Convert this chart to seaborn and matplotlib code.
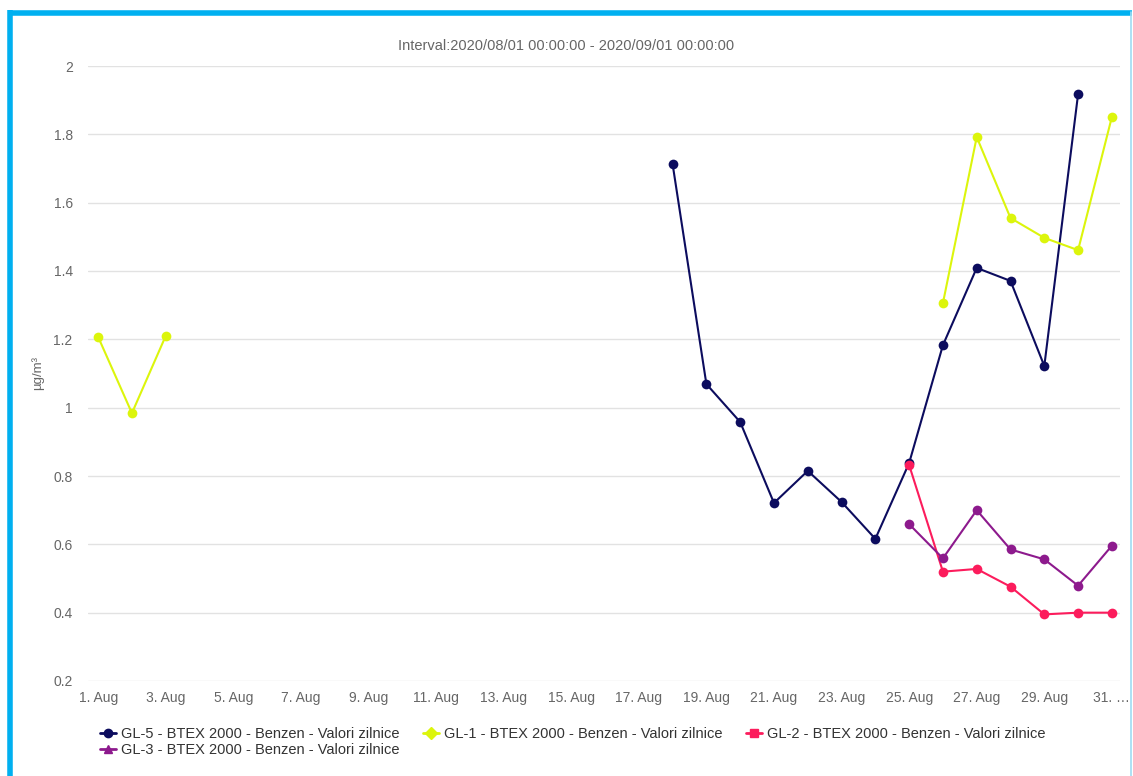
import matplotlib
matplotlib.use("Agg")
import matplotlib.pyplot as plt
from matplotlib.lines import Line2D
import numpy as np
import pandas as pd
import seaborn as sns

# days of August 2020 (31 = last shown point)
days = list(range(1, 32))
nan = np.nan

gl5 = [nan] * 17 + [1.713, 1.069, 0.958, 0.721, 0.815, 0.724, 0.616, 0.838,
                    1.183, 1.409, 1.371, 1.122, 1.918, nan]
gl1 = [1.207, 0.984, 1.210] + [nan] * 22 + [1.306, 1.792, 1.555, 1.497, 1.461, 1.851]
gl2 = [nan] * 24 + [0.832, 0.520, 0.528, 0.476, 0.395, 0.400, 0.400]
gl3 = [nan] * 24 + [0.659, 0.559, 0.700, 0.585, 0.556, 0.479, 0.596]

names = ["GL-5 - BTEX 2000 - Benzen - Valori zilnice",
         "GL-1 - BTEX 2000 - Benzen - Valori zilnice",
         "GL-2 - BTEX 2000 - Benzen - Valori zilnice",
         "GL-3 - BTEX 2000 - Benzen - Valori zilnice"]
colors = ["#0c0c5e", "#dcf50c", "#fc1c5c", "#8d1a8d"]
legend_markers = ["o", "D", "s", "^"]

xtick_days = list(range(1, 32, 2))
xtick_labels = [f"{d}. Aug" for d in xtick_days[:-1]] + ["31. \u2026"]
ytick_vals = [0.2, 0.4, 0.6, 0.8, 1.0, 1.2, 1.4, 1.6, 1.8, 2.0]
ytick_labels = ["0.2", "0.4", "0.6", "0.8", "1", "1.2", "1.4", "1.6", "1.8", "2"]

# long table, with a segment id so gaps stay gaps
rows = []
for name, vals in zip(names, [gl5, gl1, gl2, gl3]):
    seg = 0
    prev_nan = True
    for d, v in zip(days, vals):
        if np.isnan(v):
            prev_nan = True
            continue
        if prev_nan:
            seg += 1
        prev_nan = False
        rows.append({"day": d, "value": v, "series": name, "seg": f"{name}-{seg}"})
df = pd.DataFrame(rows)

sns.set_style("white")
plt.rcParams["font.family"] = ["Liberation Sans", "DejaVu Sans"]

fig = plt.figure(figsize=(11.33, 7.76), dpi=100)
ax = fig.add_axes([88 / 1133, 1 - 681 / 776, (1120 - 88) / 1133, (681 - 66) / 776])

sns.lineplot(data=df, x="day", y="value", hue="series", units="seg",
             estimator=None, palette=dict(zip(names, colors)), marker="o",
             markersize=7, markeredgewidth=0, linewidth=1.5, legend=False, ax=ax)

ax.set_xlim(0.7, 31.24)
ax.set_ylim(0.2, 2.0)
ax.set_xticks(xtick_days)
ax.set_xticklabels(xtick_labels)
ax.set_yticks(ytick_vals)
ax.set_yticklabels(ytick_labels)
ax.tick_params(axis="both", length=0, labelsize=10, colors="#666666")
ax.tick_params(axis="x", pad=7)
ax.tick_params(axis="y", pad=11)
ax.grid(axis="y", color="#e2e2e2", linewidth=1)
ax.grid(axis="x", visible=False)
ax.set_axisbelow(True)
for s in ax.spines.values():
    s.set_visible(False)
ax.set_xlabel("")
ax.set_ylabel("\u00b5g/m\u00b3", fontsize=9.5, color="#666666")
ax.yaxis.set_label_coords(-0.0426, (681 - 373) / 615)

fig.text(0.5, 1 - 46 / 776, "Interval:2020/08/01 00:00:00 - 2020/09/01 00:00:00",
         ha="center", va="center", fontsize=10.5, color="#666666")

handles = [Line2D([0], [0], color=c, marker=m, markersize=6, linewidth=2)
           for c, m in zip(colors, legend_markers)]
order = [0, 3, 1, 2]
fig.legend([handles[i] for i in order], [names[i] for i in order],
           loc="upper left", bbox_to_anchor=(93 / 1133, 1 - 720 / 776),
           ncol=3, frameon=False, fontsize=10.5, handlelength=1.1,
           handletextpad=0.35, columnspacing=1.6, labelspacing=0.1,
           labelcolor="#333333", borderpad=0)

# blue frame around the chart
fig.add_artist(Line2D([10.5 / 1133, 10.5 / 1133], [0, 1 - 10 / 776],
                      color="#00b0f0", linewidth=4, solid_capstyle="butt",
                      transform=fig.transFigure))
fig.add_artist(Line2D([8.5 / 1133, 1132 / 1133], [1 - 12.5 / 776, 1 - 12.5 / 776],
                      color="#00b0f0", linewidth=4, solid_capstyle="butt",
                      transform=fig.transFigure))
fig.add_artist(Line2D([1131 / 1133, 1131 / 1133], [0, 1 - 12 / 776],
                      color="#9fdcf2", linewidth=1.2, transform=fig.transFigure))

fig.savefig("out.png", dpi=100)
